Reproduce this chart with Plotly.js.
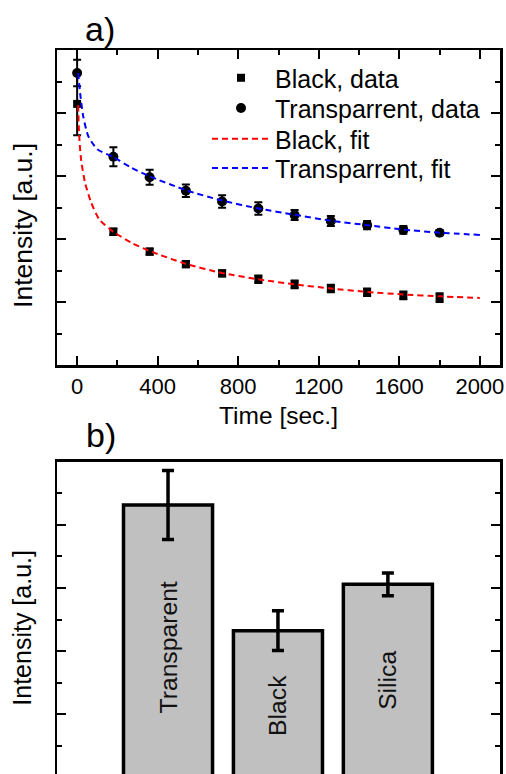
<!DOCTYPE html>
<html>
<head>
<meta charset="utf-8">
<script src="https://cdn.plot.ly/plotly-3.0.1.min.js"></script>
<style>html,body{margin:0;padding:0;background:#fff;}#chart{width:506px;height:774px;}</style>
</head>
<body>
<div id="chart"></div>
<script>
// ---- data (a): time decay ----
var timeData = [0, 180, 360, 540, 720, 900, 1080, 1260, 1440, 1620, 1800];
var blackData = [8.29, 4.23, 3.60, 3.20, 2.91, 2.72, 2.56, 2.43, 2.31, 2.21, 2.14];
var blackErr = [1.0, 0.10, 0.10, 0.10, 0.10, 0.12, 0.12, 0.12, 0.12, 0.12, 0.14];
var transpData = [9.27, 6.61, 5.96, 5.53, 5.19, 4.97, 4.76, 4.57, 4.44, 4.29, 4.20];
var transpErr = [0.42, 0.30, 0.24, 0.20, 0.20, 0.20, 0.16, 0.16, 0.13, 0.12, 0.08];

var blackFitT = [5, 10, 20, 40, 70, 110, 180, 270, 360, 540, 720, 900, 1080, 1260, 1440, 1620, 1800, 2000];
var blackFitY = [8.25, 7.30, 6.50, 5.77, 5.15, 4.62, 4.23, 3.88, 3.62, 3.21, 2.92, 2.72, 2.56, 2.43, 2.32, 2.24, 2.18, 2.13];
var transpFitT = [5, 15, 30, 55, 100, 180, 270, 360, 540, 720, 900, 1080, 1260, 1440, 1620, 1800, 2000];
var transpFitY = [9.27, 8.62, 7.90, 7.27, 6.85, 6.60, 6.26, 5.99, 5.55, 5.22, 4.97, 4.77, 4.58, 4.44, 4.30, 4.20, 4.13];

var seriesNames = ['Black, data', 'Transparrent, data', 'Black, fit', 'Transparrent, fit'];

// ---- data (b): bar comparison ----
var barCategories = ['Transparent', 'Black', 'Silica'];
var barValues = [8.63, 4.65, 6.12];
var barErr = [1.09, 0.63, 0.36];
var barLabelY = [4.12, 2.30, 3.09];

var FONT = 'Liberation Sans, Arial, sans-serif';

var traces = [
  {x: timeData, y: blackData, type: 'scatter', mode: 'markers', name: seriesNames[0], legend: 'legend',
   marker: {symbol: 'square', size: 8, color: '#000'},
   error_y: {type: 'data', array: blackErr, visible: true, color: '#000', thickness: 2, width: 4},
   xaxis: 'x', yaxis: 'y'},
  {x: timeData, y: transpData, type: 'scatter', mode: 'markers', name: seriesNames[1], legend: 'legend2',
   marker: {symbol: 'circle', size: 10, color: '#000'},
   error_y: {type: 'data', array: transpErr, visible: true, color: '#000', thickness: 2, width: 4},
   xaxis: 'x', yaxis: 'y'},
  {x: blackFitT, y: blackFitY, type: 'scatter', mode: 'lines', name: seriesNames[2], legend: 'legend3',
   line: {color: '#ff0000', width: 2, dash: '6px,4px', shape: 'spline', smoothing: 0.6},
   xaxis: 'x', yaxis: 'y'},
  {x: transpFitT, y: transpFitY, type: 'scatter', mode: 'lines', name: seriesNames[3], legend: 'legend4',
   line: {color: '#0000ff', width: 2, dash: '6px,4px', shape: 'spline', smoothing: 0.6},
   xaxis: 'x', yaxis: 'y'},
  {x: barCategories, y: barValues, type: 'bar', showlegend: false,
   width: 0.81,
   marker: {color: '#c0c0c0', line: {color: '#000', width: 3.5}},
   error_y: {type: 'data', array: barErr, visible: true, color: '#000', thickness: 3.5, width: 6},
   textposition: 'none', hoverinfo: 'none',
   xaxis: 'x2', yaxis: 'y2'}
];

var axisCommon = {
  showline: true, linecolor: '#000', linewidth: 2.5, mirror: 'ticks',
  ticks: 'inside', ticklen: 9, tickwidth: 2, tickcolor: '#000',
  showgrid: false, zeroline: false
};

function legendAt(yPaper) {
  return {x: 0.3386, y: yPaper, xanchor: 'left', yanchor: 'middle', bgcolor: 'rgba(0,0,0,0)',
          borderwidth: 0, font: {family: FONT, size: 25, color: '#000'}, itemwidth: 58};
}

var annotations = [
  {text: 'a)', xref: 'paper', yref: 'paper', x: 0.058, y: 0.963, xanchor: 'left', yanchor: 'middle',
   showarrow: false, font: {family: FONT, size: 34, color: '#000'}},
  {text: 'b)', xref: 'paper', yref: 'paper', x: 0.061, y: 0.4375, xanchor: 'left', yanchor: 'middle',
   showarrow: false, font: {family: FONT, size: 34, color: '#000'}},
  {text: 'Intensity [a.u.]', xref: 'paper', yref: 'paper', x: -0.077, y: 0.7093, xanchor: 'center', yanchor: 'middle',
   textangle: -90, showarrow: false, font: {family: FONT, size: 26.5, color: '#000'}},
  {text: 'Intensity [a.u.]', xref: 'paper', yref: 'paper', x: -0.079, y: 0.189, xanchor: 'center', yanchor: 'middle',
   textangle: -90, showarrow: false, font: {family: FONT, size: 25, color: '#000'}}
];
for (var i = 0; i < barCategories.length; i++) {
  annotations.push({text: barCategories[i], xref: 'x2', yref: 'y2', x: barCategories[i], y: barLabelY[i],
    xanchor: 'center', yanchor: 'middle', textangle: -90, showarrow: false,
    font: {family: FONT, size: 24.7, color: '#111'}});
}

var layout = {
  width: 506, height: 774,
  margin: {l: 57, r: 6, t: 0, b: 0},
  paper_bgcolor: '#fff', plot_bgcolor: '#fff',
  font: {family: FONT, color: '#000', size: 22},
  showlegend: true,
  legend: legendAt(0.8992),
  legend2: legendAt(0.8601),
  legend3: legendAt(0.8204),
  legend4: legendAt(0.7826),
  xaxis: Object.assign({}, axisCommon, {
    domain: [0, 1], anchor: 'y', range: [-100, 2100], dtick: 400, tick0: 0,
    tickfont: {family: FONT, size: 22, color: '#000'},
    minor: {dtick: 200, ticks: 'inside', ticklen: 5, tickwidth: 2, tickcolor: '#000'},
    title: {text: 'Time [sec.]', font: {family: FONT, size: 24.5, color: '#000'}, standoff: 9}
  }),
  yaxis: Object.assign({}, axisCommon, {
    domain: [0.5284, 0.9354], anchor: 'x', range: [0, 10], dtick: 2, tick0: 0,
    showticklabels: false,
    minor: {dtick: 1, ticks: 'inside', ticklen: 5, tickwidth: 2, tickcolor: '#000'}
  }),
  xaxis2: {
    domain: [0, 1], anchor: 'y2', type: 'category', range: [-1.01, 3.02],
    side: 'top', showline: true, linecolor: '#000', linewidth: 2.5,
    ticks: '', showticklabels: false, showgrid: false, zeroline: false
  },
  yaxis2: Object.assign({}, axisCommon, {
    domain: [0, 0.4035], anchor: 'x2', range: [0.114, 10.0], dtick: 2, tick0: 0,
    showticklabels: false,
    minor: {dtick: 1, ticks: 'inside', ticklen: 5, tickwidth: 2, tickcolor: '#000'}
  }),
  annotations: annotations
};

Plotly.newPlot('chart', traces, layout, {displayModeBar: false, staticPlot: true});
</script>
</body>
</html>
